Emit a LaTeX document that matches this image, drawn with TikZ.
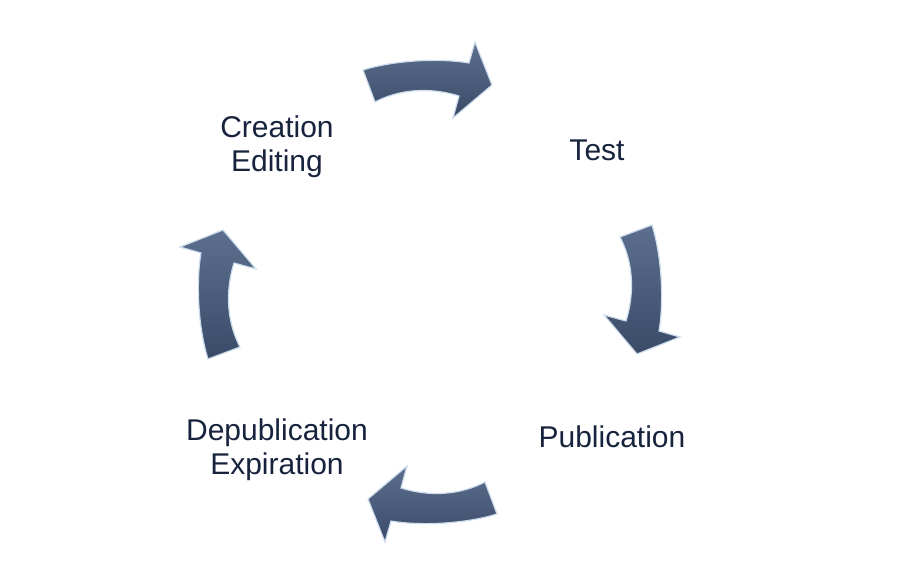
\documentclass[tikz,border=0pt]{standalone}
\usepackage{fontspec}
\setmainfont{Liberation Sans}
\definecolor{labelblue}{RGB}{23,35,61}
\definecolor{arrowtop}{RGB}{92,111,142}
\definecolor{arrowbottom}{RGB}{58,75,104}
\definecolor{arrowedge}{RGB}{205,220,236}
\tikzset{
  cyclearrow/.style={top color=arrowtop, bottom color=arrowbottom, draw=arrowedge, line width=1.2pt, line join=miter},
  stage/.style={text=labelblue, align=center, font=\fontsize{30}{34}\selectfont}
}

\begin{document}
\begin{tikzpicture}[x=1pt,y=1pt]
\useasboundingbox (-430,-294) rectangle (477,292);
%block arrows, one per quarter
\foreach \a in {0,-90,-180,-270}
\draw[cyclearrow,rotate=\a] (-67,222) .. controls (-35,232) and (10,234) .. (39,229) -- (45,250) -- (62,207) -- (23,174) -- (29,196) .. controls (0,205) and (-30,203) .. (-55,190) -- cycle;
%stages
\node[stage] (creation) at (-153,145) {Creation\\Editing};
\node[stage] (test) at (167,142) {Test};
\node[stage] (publication) at (182,-145) {Publication};
\node[stage] (depublication) at (-153,-158) {Depublication\\Expiration};
\end{tikzpicture}
\end{document}
